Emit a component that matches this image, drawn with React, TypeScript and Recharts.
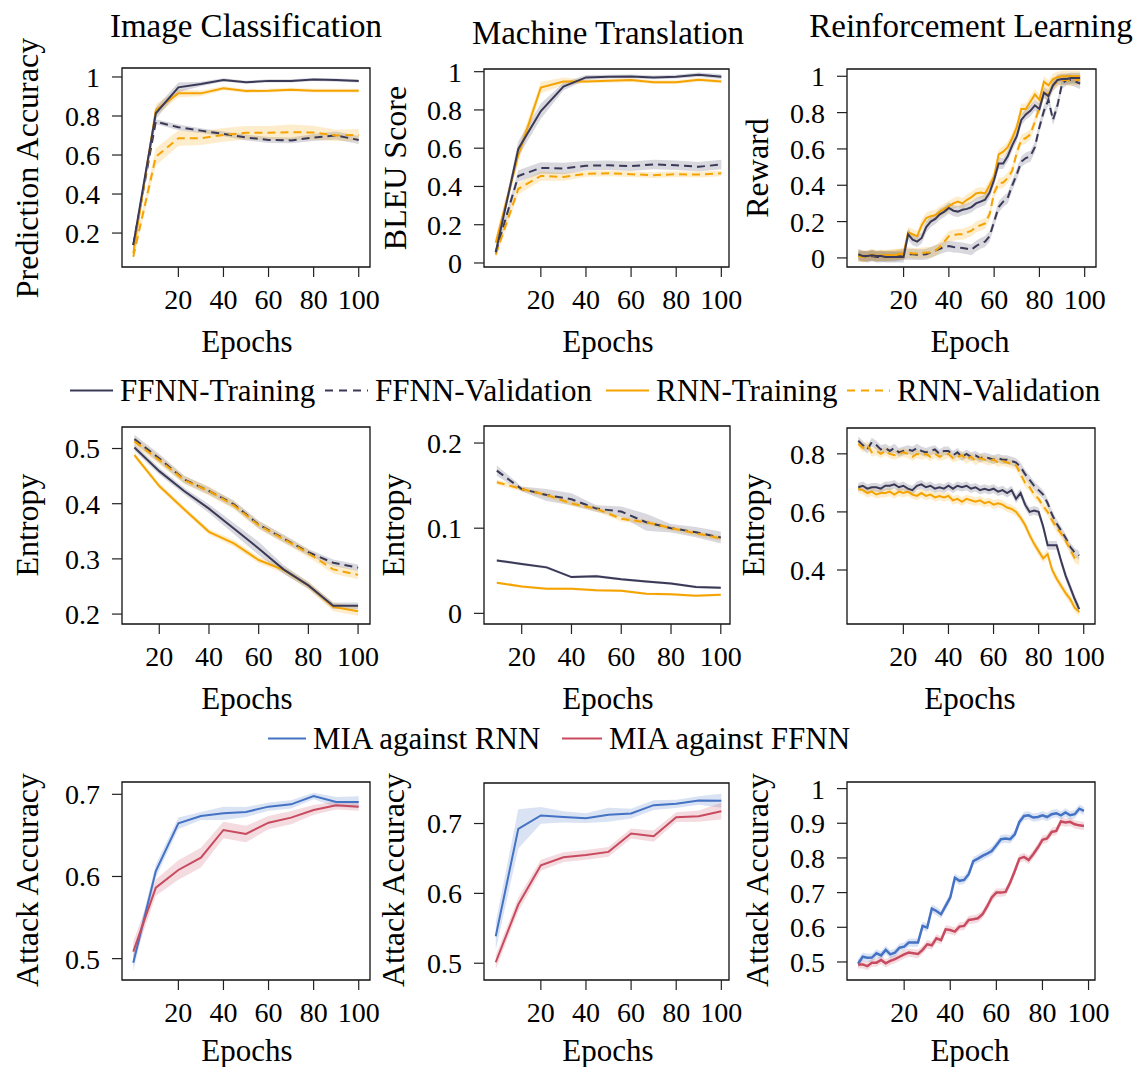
import React from 'react';
import { Area, ComposedChart, Line, ReferenceArea, XAxis, YAxis } from 'recharts';

const FONT = '"Liberation Serif", "Times New Roman", serif';
const DARK = '#3a3a58';
const ORANGE = '#f5a300';
const BLUE = '#4472c4';
const RED = '#c84a5f';

// ---- shared epoch axes ----
const epochs11 = [0, 10, 20, 30, 40, 50, 60, 70, 80, 90, 100];
const epochs10 = [10, 20, 30, 40, 50, 60, 70, 80, 90, 100];
const epochs50 = [
  0, 2, 4, 6, 8, 10, 12, 14, 16, 18, 20, 22, 24, 26, 28, 30, 32, 34, 36, 38, 40, 42, 44, 46, 48,
  50, 52, 54, 56, 58, 60, 62, 64, 66, 68, 70, 72, 74, 76, 78, 80, 82, 84, 86, 88, 90, 92, 94, 96, 98,
];
const epochTicks = [20, 40, 60, 80, 100];

// ---- Image Classification: prediction accuracy ----
const icAccFfnnTrain = [0.138, 0.814, 0.947, 0.964, 0.985, 0.973, 0.98, 0.98, 0.987, 0.984, 0.98];
const icAccFfnnTrainSd = [0.02, 0.03, 0.025, 0.012, 0.008, 0.008, 0.008, 0.008, 0.008, 0.008, 0.008];
const icAccFfnnVal = [0.138, 0.771, 0.742, 0.725, 0.708, 0.69, 0.677, 0.675, 0.69, 0.7, 0.677];
const icAccFfnnValSd = [0.02, 0.012, 0.015, 0.012, 0.012, 0.015, 0.015, 0.015, 0.018, 0.02, 0.02];
const icAccRnnTrain = [0.096, 0.831, 0.916, 0.916, 0.942, 0.928, 0.93, 0.935, 0.93, 0.93, 0.93];
const icAccRnnTrainSd = [0.02, 0.03, 0.02, 0.015, 0.01, 0.01, 0.01, 0.01, 0.01, 0.01, 0.01];
const icAccRnnVal = [0.079, 0.591, 0.686, 0.686, 0.703, 0.714, 0.714, 0.717, 0.715, 0.7, 0.703];
const icAccRnnValSd = [0.02, 0.045, 0.04, 0.035, 0.035, 0.035, 0.035, 0.04, 0.035, 0.03, 0.03];

// ---- Machine Translation: BLEU ----
const mtBleuFfnnTrain = [0.056, 0.596, 0.794, 0.922, 0.97, 0.974, 0.975, 0.97, 0.974, 0.984, 0.974];
const mtBleuFfnnTrainSd = [0.02, 0.04, 0.04, 0.02, 0.012, 0.01, 0.01, 0.01, 0.01, 0.012, 0.012];
const mtBleuFfnnVal = [0.056, 0.455, 0.497, 0.494, 0.508, 0.511, 0.506, 0.515, 0.511, 0.503, 0.515];
const mtBleuFfnnValSd = [0.02, 0.03, 0.03, 0.03, 0.025, 0.025, 0.025, 0.025, 0.025, 0.025, 0.025];
const mtBleuRnnTrain = [0.106, 0.564, 0.917, 0.949, 0.949, 0.952, 0.956, 0.945, 0.945, 0.958, 0.949];
const mtBleuRnnTrainSd = [0.03, 0.04, 0.03, 0.02, 0.01, 0.01, 0.01, 0.01, 0.01, 0.01, 0.01];
const mtBleuRnnVal = [0.044, 0.388, 0.455, 0.45, 0.466, 0.469, 0.464, 0.459, 0.464, 0.462, 0.469];
const mtBleuRnnValSd = [0.02, 0.03, 0.025, 0.02, 0.015, 0.015, 0.015, 0.015, 0.015, 0.015, 0.015];

// ---- Reinforcement Learning: reward ----
const rlRewFfnnTrain = [
  0.02, 0.01, 0.01, 0.015, 0.01, 0.01, 0.005, 0.005, 0.005, 0.005,
  0.005, 0.13, 0.1, 0.09, 0.11, 0.17, 0.2, 0.215, 0.24, 0.255,
  0.275, 0.26, 0.255, 0.265, 0.27, 0.28, 0.3, 0.31, 0.32, 0.36,
  0.43, 0.52, 0.52, 0.56, 0.62, 0.67, 0.76, 0.79, 0.81, 0.84,
  0.82, 0.91, 0.89, 0.95, 0.98, 0.985, 0.985, 0.99, 0.99, 0.99,
];
const rlRewFfnnVal = [
  0.01, 0.01, 0.005, 0.01, 0.005, 0.005, 0.01, 0.01, 0.01, 0.015,
  0.02, 0.02, 0.02, 0.018, 0.018, 0.02, 0.03, 0.04, 0.05, 0.06,
  0.065, 0.06, 0.058, 0.055, 0.05, 0.045, 0.065, 0.08, 0.09, 0.12,
  0.2, 0.28, 0.31, 0.33, 0.4, 0.46, 0.53, 0.55, 0.56, 0.61,
  0.72, 0.81, 0.87, 0.76, 0.84, 0.96, 0.98, 0.98, 0.97, 0.96,
];
const rlRewRnnTrain = [
  0.01, 0.005, 0.01, 0.02, 0.01, 0.015, 0.01, 0.015, 0.015, 0.02,
  0.025, 0.14, 0.13, 0.12, 0.18, 0.22, 0.23, 0.235, 0.255, 0.27,
  0.285, 0.3, 0.31, 0.3, 0.32, 0.335, 0.355, 0.36, 0.355, 0.4,
  0.45, 0.57, 0.585, 0.61, 0.66, 0.72, 0.82, 0.82, 0.86, 0.9,
  0.87, 0.97, 0.95, 0.985, 0.995, 1, 1, 1, 1, 1,
];
const rlRewRnnVal = [
  0.015, 0.01, 0.01, 0.015, 0.01, 0.015, 0.015, 0.015, 0.02, 0.02,
  0.02, 0.03, 0.025, 0.025, 0.027, 0.03, 0.03, 0.04, 0.06, 0.09,
  0.12, 0.125, 0.13, 0.13, 0.14, 0.15, 0.17, 0.18, 0.19, 0.24,
  0.36, 0.41, 0.415, 0.44, 0.48, 0.58, 0.65, 0.66, 0.68, 0.75,
  0.83, 0.91, 0.9, 0.95, 0.97, 0.98, 0.98, 0.975, 0.98, 0.98,
];
const rlRewSd = 0.03;

// ---- Image Classification: entropy ----
const icEntFfnnTrain = [0.502, 0.459, 0.423, 0.391, 0.355, 0.319, 0.281, 0.252, 0.215, 0.215];
const icEntFfnnTrainSd = [0.006, 0.006, 0.006, 0.008, 0.01, 0.012, 0.008, 0.006, 0.006, 0.006];
const icEntFfnnVal = [0.517, 0.482, 0.444, 0.423, 0.399, 0.362, 0.337, 0.312, 0.293, 0.284];
const icEntFfnnValSd = [0.008, 0.008, 0.007, 0.007, 0.007, 0.007, 0.007, 0.006, 0.006, 0.006];
const icEntRnnTrain = [0.488, 0.432, 0.39, 0.349, 0.328, 0.298, 0.28, 0.252, 0.213, 0.205];
const icEntRnnTrainSd = [0.005, 0.005, 0.005, 0.005, 0.006, 0.006, 0.006, 0.007, 0.008, 0.008];
const icEntRnnVal = [0.513, 0.479, 0.443, 0.423, 0.397, 0.361, 0.336, 0.31, 0.281, 0.271];
const icEntRnnValSd = [0.008, 0.008, 0.007, 0.008, 0.007, 0.007, 0.007, 0.007, 0.008, 0.008];

// ---- Machine Translation: entropy ----
const mtEntFfnnTrain = [0.062, 0.058, 0.054, 0.0426, 0.0437, 0.04, 0.0375, 0.035, 0.031, 0.03];
const mtEntFfnnVal = [0.1676, 0.146, 0.139, 0.134, 0.123, 0.1195, 0.107, 0.1, 0.0953, 0.089];
const mtEntFfnnValSd = [0.006, 0.003, 0.007, 0.007, 0.004, 0.006, 0.01, 0.005, 0.006, 0.007];
const mtEntRnnTrain = [0.036, 0.0316, 0.029, 0.029, 0.027, 0.0266, 0.023, 0.0223, 0.0207, 0.0219];
const mtEntRnnVal = [0.154, 0.146, 0.139, 0.129, 0.1227, 0.111, 0.107, 0.1, 0.094, 0.088];
const mtEntTrainSd = 0.0015;
const mtEntRnnValSd = 0.003;

// ---- Reinforcement Learning: entropy ----
const rlEntFfnnTrain = [
  0.685, 0.69, 0.68, 0.685, 0.685, 0.68, 0.69, 0.69, 0.695, 0.685,
  0.69, 0.68, 0.675, 0.69, 0.695, 0.685, 0.69, 0.68, 0.685, 0.68,
  0.69, 0.68, 0.69, 0.685, 0.69, 0.68, 0.685, 0.675, 0.68, 0.675,
  0.68, 0.67, 0.675, 0.665, 0.675, 0.645, 0.665, 0.625, 0.6, 0.605,
  0.6, 0.55, 0.485, 0.485, 0.485, 0.43, 0.38, 0.34, 0.3, 0.265,
];
const rlEntFfnnVal = [
  0.845, 0.83, 0.815, 0.84, 0.83, 0.815, 0.82, 0.81, 0.82, 0.805,
  0.81, 0.815, 0.81, 0.82, 0.81, 0.805, 0.81, 0.815, 0.8, 0.81,
  0.81, 0.795, 0.805, 0.79, 0.8, 0.79, 0.795, 0.785, 0.79, 0.785,
  0.78, 0.785, 0.78, 0.78, 0.775, 0.77, 0.755, 0.73, 0.71, 0.69,
  0.675, 0.66, 0.63, 0.59, 0.56, 0.535, 0.51, 0.48, 0.46, 0.45,
];
const rlEntRnnTrain = [
  0.68, 0.675, 0.665, 0.67, 0.66, 0.665, 0.665, 0.67, 0.66, 0.67,
  0.665, 0.67, 0.66, 0.655, 0.665, 0.655, 0.66, 0.65, 0.655, 0.65,
  0.655, 0.64, 0.645, 0.635, 0.645, 0.64, 0.635, 0.64, 0.63, 0.635,
  0.625, 0.63, 0.625, 0.615, 0.61, 0.6, 0.58, 0.555, 0.52, 0.49,
  0.465, 0.44, 0.455, 0.4, 0.37, 0.345, 0.32, 0.3, 0.27, 0.255,
];
const rlEntRnnVal = [
  0.835, 0.82, 0.83, 0.805, 0.81, 0.8, 0.81, 0.8, 0.795, 0.8,
  0.805, 0.8, 0.79, 0.8, 0.795, 0.8, 0.79, 0.8, 0.79, 0.795,
  0.8, 0.785, 0.79, 0.795, 0.78, 0.79, 0.775, 0.785, 0.78, 0.775,
  0.78, 0.77, 0.775, 0.77, 0.765, 0.76, 0.73, 0.7, 0.685, 0.66,
  0.645, 0.62, 0.6, 0.57, 0.545, 0.525, 0.5, 0.47, 0.44, 0.43,
];
const rlEntSd = 0.015;

// ---- Image Classification: attack accuracy ----
const icMiaRnn = [0.495, 0.6067, 0.6647, 0.6736, 0.6769, 0.6785, 0.685, 0.6878, 0.698, 0.6907, 0.6907];
const icMiaRnnSd = [0.01, 0.008, 0.007, 0.005, 0.008, 0.006, 0.005, 0.005, 0.004, 0.006, 0.007];
const icMiaFfnn = [0.5085, 0.5864, 0.6079, 0.6229, 0.6566, 0.6517, 0.6655, 0.6716, 0.681, 0.6866, 0.685];
const icMiaFfnnSd = [0.012, 0.01, 0.012, 0.012, 0.01, 0.01, 0.008, 0.008, 0.006, 0.005, 0.005];

// ---- Machine Translation: attack accuracy ----
const mtMiaRnn = [0.5387, 0.6924, 0.7115, 0.7095, 0.7076, 0.7124, 0.7143, 0.7263, 0.7282, 0.733, 0.7325];
const mtMiaRnnSd = [0.02, 0.028, 0.012, 0.008, 0.007, 0.01, 0.007, 0.007, 0.006, 0.006, 0.01];
const mtMiaFfnn = [0.5014, 0.584, 0.6403, 0.6518, 0.6551, 0.6594, 0.6857, 0.6819, 0.7091, 0.7105, 0.7177];
const mtMiaFfnnSd = [0.01, 0.01, 0.008, 0.007, 0.007, 0.007, 0.007, 0.008, 0.007, 0.008, 0.012];

// ---- Reinforcement Learning: attack accuracy ----
const rlMiaRnn = [
  0.495, 0.515, 0.512, 0.5125, 0.525, 0.519, 0.535, 0.522, 0.527, 0.541,
  0.544, 0.556, 0.556, 0.556, 0.604, 0.599, 0.654, 0.647, 0.6375, 0.6615,
  0.686, 0.743, 0.734, 0.7365, 0.753, 0.791, 0.798, 0.806, 0.8125, 0.82,
  0.8365, 0.854, 0.856, 0.854, 0.868, 0.904, 0.921, 0.923, 0.9165, 0.918,
  0.923, 0.918, 0.926, 0.929, 0.923, 0.931, 0.923, 0.926, 0.942, 0.9355,
];
const rlMiaFfnn = [
  0.493, 0.493, 0.488, 0.498, 0.498, 0.506, 0.496, 0.503, 0.508, 0.515,
  0.522, 0.527, 0.525, 0.523, 0.535, 0.551, 0.548, 0.568, 0.563, 0.594,
  0.592, 0.5875, 0.602, 0.604, 0.621, 0.623, 0.626, 0.6375, 0.66, 0.686,
  0.7, 0.7, 0.702, 0.729, 0.7625, 0.798, 0.803, 0.794, 0.8105, 0.83,
  0.852, 0.856, 0.875, 0.878, 0.905, 0.902, 0.904, 0.897, 0.894, 0.892,
];
const rlMiaSd = 0.012;

type Series = {
  key: string;
  values: number[];
  spread: number[] | number;
  color: string;
  dashed?: boolean;
  width?: number;
};

type PanelProps = {
  frame: [number, number, number, number]; // left, top, right, bottom of the plot box
  x: number[];
  xDomain: [number, number];
  yDomain: [number, number];
  yTicks: number[];
  series: Series[];
};

function buildRows(x: number[], series: Series[]) {
  return x.map((xv, i) => {
    const row: Record<string, any> = { x: xv };
    series.forEach((s) => {
      const v = s.values[i];
      const sd = Array.isArray(s.spread) ? s.spread[i] : s.spread;
      row[s.key] = v;
      row[`${s.key}Band`] = [v - sd, v + sd];
    });
    return row;
  });
}

const fmtTick = (v: number) => (v === 0 ? '0' : v === 1 ? '1' : String(+v.toFixed(2)));

const PAD_L = 110;
const PAD_T = 22;
const PAD_R = 20;
const PAD_B = 50;
const tickStyle = { fill: '#000', fontSize: 28, fontFamily: FONT };

function Panel({ frame, x, xDomain, yDomain, yTicks, series }: PanelProps) {
  const [l, t, r, b] = frame;
  const rows = buildRows(x, series);
  return (
    <div style={{ position: 'absolute', left: l - PAD_L, top: t - PAD_T }}>
      <ComposedChart
        width={r - l + PAD_L + PAD_R}
        height={b - t + PAD_T + PAD_B}
        data={rows}
        margin={{ top: PAD_T, right: PAD_R, bottom: 0, left: 0 }}
      >
        <XAxis
          type="number"
          dataKey="x"
          domain={xDomain}
          ticks={epochTicks}
          interval={0}
          allowDataOverflow
          height={PAD_B}
          axisLine={false}
          tickSize={10}
          tickMargin={12}
          tickLine={{ stroke: '#222', strokeWidth: 1.2 }}
          tick={tickStyle}
        />
        <YAxis
          type="number"
          domain={yDomain}
          ticks={yTicks}
          interval={0}
          allowDataOverflow
          width={PAD_L}
          axisLine={false}
          tickSize={10}
          tickMargin={12}
          tickLine={{ stroke: '#222', strokeWidth: 1.2 }}
          tick={tickStyle}
          tickFormatter={fmtTick}
        />
        {series.map((s) => (
          <Area
            key={`${s.key}-band`}
            dataKey={`${s.key}Band`}
            stroke="none"
            fill={s.color}
            fillOpacity={0.2}
            isAnimationActive={false}
            activeDot={false}
          />
        ))}
        {series.map((s) => (
          <Line
            key={s.key}
            dataKey={s.key}
            stroke={s.color}
            strokeWidth={s.width ?? 2}
            strokeDasharray={s.dashed ? '8 5' : undefined}
            dot={false}
            activeDot={false}
            isAnimationActive={false}
          />
        ))}
        <ReferenceArea
          x1={xDomain[0]}
          x2={xDomain[1]}
          y1={yDomain[0]}
          y2={yDomain[1]}
          fill="none"
          stroke="#111"
          strokeWidth={1.3}
          ifOverflow="visible"
        />
      </ComposedChart>
    </div>
  );
}

function Text({ x, y, size, children, rotate }: { x: number; y: number; size: number; children: React.ReactNode; rotate?: boolean }) {
  return (
    <div
      style={{
        position: 'absolute',
        left: x,
        top: y,
        fontSize: size,
        lineHeight: 1,
        whiteSpace: 'nowrap',
        transform: `translate(-50%, -50%)${rotate ? ' rotate(-90deg)' : ''}`,
      }}
    >
      {children}
    </div>
  );
}

function LegendItem({ x, y, color, dashed, len, label }: { x: number; y: number; color: string; dashed?: boolean; len: number; label: string }) {
  return (
    <div style={{ position: 'absolute', left: x, top: y, display: 'flex', alignItems: 'center', transform: 'translateY(-50%)', whiteSpace: 'nowrap' }}>
      <svg width={len} height={6} style={{ marginRight: 7 }}>
        <line x1={0} y1={3} x2={len} y2={3} stroke={color} strokeWidth={2} strokeDasharray={dashed ? '8 6' : undefined} />
      </svg>
      <span style={{ fontSize: 31, lineHeight: 1 }}>{label}</span>
    </div>
  );
}

const modelSeries = (ffTrain: number[], ffTrainSd: number[] | number, ffVal: number[], ffValSd: number[] | number, rnTrain: number[], rnTrainSd: number[] | number, rnVal: number[], rnValSd: number[] | number): Series[] => [
  { key: 'ffnnVal', values: ffVal, spread: ffValSd, color: DARK, dashed: true },
  { key: 'rnnVal', values: rnVal, spread: rnValSd, color: ORANGE, dashed: true },
  { key: 'rnnTrain', values: rnTrain, spread: rnTrainSd, color: ORANGE },
  { key: 'ffnnTrain', values: ffTrain, spread: ffTrainSd, color: DARK },
];

export default function App() {
  return (
    <div style={{ position: 'absolute', left: 0, top: 0, width: 1136, height: 1067, background: '#fff', fontFamily: FONT, color: '#000', overflow: 'hidden' }}>
      <Panel
        frame={[122, 68, 370, 267]}
        x={epochs11}
        xDomain={[-5, 105]}
        yDomain={[0.026, 1.046]}
        yTicks={[0.2, 0.4, 0.6, 0.8, 1]}
        series={modelSeries(icAccFfnnTrain, icAccFfnnTrainSd, icAccFfnnVal, icAccFfnnValSd, icAccRnnTrain, icAccRnnTrainSd, icAccRnnVal, icAccRnnValSd)}
      />
      <Panel
        frame={[484, 69, 729, 267]}
        x={epochs11}
        xDomain={[-5.2, 103.4]}
        yDomain={[-0.021, 1.014]}
        yTicks={[0, 0.2, 0.4, 0.6, 0.8, 1]}
        series={modelSeries(mtBleuFfnnTrain, mtBleuFfnnTrainSd, mtBleuFfnnVal, mtBleuFfnnValSd, mtBleuRnnTrain, mtBleuRnnTrainSd, mtBleuRnnVal, mtBleuRnnValSd)}
      />
      <Panel
        frame={[847, 69, 1096, 267]}
        x={epochs50}
        xDomain={[-5, 105]}
        yDomain={[-0.05, 1.04]}
        yTicks={[0, 0.2, 0.4, 0.6, 0.8, 1]}
        series={modelSeries(rlRewFfnnTrain, rlRewSd, rlRewFfnnVal, rlRewSd, rlRewRnnTrain, rlRewSd, rlRewRnnVal, rlRewSd)}
      />
      <Text x={246} y={26} size={33}>Image Classification</Text>
      <Text x={608} y={33} size={33}>Machine Translation</Text>
      <Text x={971} y={26} size={33}>Reinforcement Learning</Text>
      <Text x={27} y={168} size={32} rotate>Prediction Accuracy</Text>
      <Text x={395} y={168} size={32} rotate>BLEU Score</Text>
      <Text x={757} y={168} size={32} rotate>Reward</Text>
      <Text x={247} y={341} size={31}>Epochs</Text>
      <Text x={608} y={341} size={31}>Epochs</Text>
      <Text x={970} y={341} size={31}>Epoch</Text>

      <LegendItem x={70} y={390} len={43} color={DARK} label="FFNN-Training" />
      <LegendItem x={325} y={390} len={43} color={DARK} dashed label="FFNN-Validation" />
      <LegendItem x={606} y={390} len={43} color={ORANGE} label="RNN-Training" />
      <LegendItem x={847} y={390} len={43} color={ORANGE} dashed label="RNN-Validation" />

      <Panel
        frame={[122, 427, 370, 624]}
        x={epochs10}
        xDomain={[5, 104.8]}
        yDomain={[0.182, 0.539]}
        yTicks={[0.2, 0.3, 0.4, 0.5]}
        series={modelSeries(icEntFfnnTrain, icEntFfnnTrainSd, icEntFfnnVal, icEntFfnnValSd, icEntRnnTrain, icEntRnnTrainSd, icEntRnnVal, icEntRnnValSd)}
      />
      <Panel
        frame={[484, 426, 730, 624]}
        x={epochs10}
        xDomain={[4.85, 103.7]}
        yDomain={[-0.0125, 0.22]}
        yTicks={[0, 0.1, 0.2]}
        series={modelSeries(mtEntFfnnTrain, mtEntTrainSd, mtEntFfnnVal, mtEntFfnnValSd, mtEntRnnTrain, mtEntTrainSd, mtEntRnnVal, mtEntRnnValSd)}
      />
      <Panel
        frame={[847, 428, 1095, 624]}
        x={epochs50}
        xDomain={[-5, 105]}
        yDomain={[0.214, 0.889]}
        yTicks={[0.4, 0.6, 0.8]}
        series={modelSeries(rlEntFfnnTrain, rlEntSd, rlEntFfnnVal, rlEntSd, rlEntRnnTrain, rlEntSd, rlEntRnnVal, rlEntSd)}
      />
      <Text x={27} y={525} size={32} rotate>Entropy</Text>
      <Text x={393} y={525} size={32} rotate>Entropy</Text>
      <Text x={753} y={525} size={32} rotate>Entropy</Text>
      <Text x={247} y={698} size={31}>Epochs</Text>
      <Text x={608} y={698} size={31}>Epochs</Text>
      <Text x={970} y={698} size={31}>Epochs</Text>

      <LegendItem x={268} y={738} len={38} color={BLUE} label="MIA against RNN" />
      <LegendItem x={562} y={738} len={40} color={RED} label="MIA against FFNN" />

      <Panel
        frame={[122, 782, 370, 980]}
        x={epochs11}
        xDomain={[-5, 105]}
        yDomain={[0.474, 0.715]}
        yTicks={[0.5, 0.6, 0.7]}
        series={[
          { key: 'rnn', values: icMiaRnn, spread: icMiaRnnSd, color: BLUE },
          { key: 'ffnn', values: icMiaFfnn, spread: icMiaFfnnSd, color: RED },
        ]}
      />
      <Panel
        frame={[484, 783, 729, 980]}
        x={epochs11}
        xDomain={[-5.2, 103.4]}
        yDomain={[0.476, 0.758]}
        yTicks={[0.5, 0.6, 0.7]}
        series={[
          { key: 'rnn', values: mtMiaRnn, spread: mtMiaRnnSd, color: BLUE },
          { key: 'ffnn', values: mtMiaFfnn, spread: mtMiaFfnnSd, color: RED },
        ]}
      />
      <Panel
        frame={[847, 782, 1095, 980]}
        x={epochs50}
        xDomain={[-4.8, 102.8]}
        yDomain={[0.448, 1.019]}
        yTicks={[0.5, 0.6, 0.7, 0.8, 0.9, 1]}
        series={[
          { key: 'rnn', values: rlMiaRnn, spread: rlMiaSd, color: BLUE, width: 2.5 },
          { key: 'ffnn', values: rlMiaFfnn, spread: rlMiaSd, color: RED, width: 2.5 },
        ]}
      />
      <Text x={27} y={880} size={32} rotate>Attack Accuracy</Text>
      <Text x={393} y={880} size={32} rotate>Attack Accuracy</Text>
      <Text x={757} y={880} size={32} rotate>Attack Accuracy</Text>
      <Text x={247} y={1050} size={31}>Epochs</Text>
      <Text x={608} y={1050} size={31}>Epochs</Text>
      <Text x={970} y={1050} size={31}>Epoch</Text>
    </div>
  );
}
